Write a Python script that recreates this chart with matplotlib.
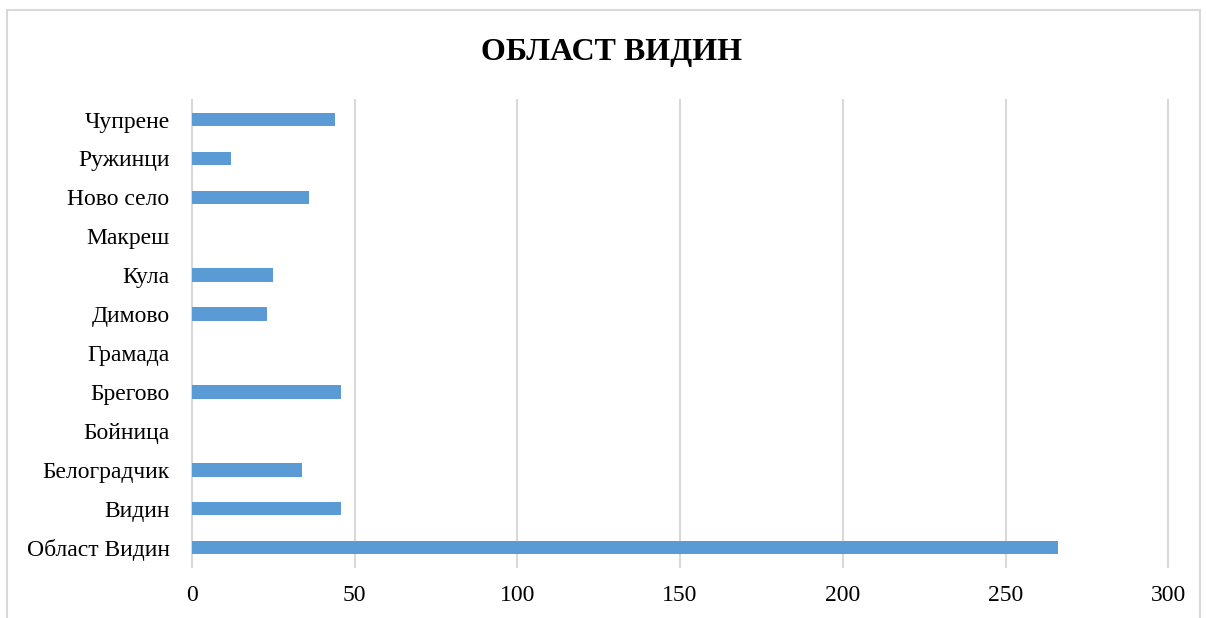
import matplotlib.pyplot as plt
from matplotlib.patches import Rectangle

plt.rcParams['font.family'] = ['Liberation Serif', 'DejaVu Serif']

# категории (отгоре надолу както в оригинала)
categories = ["Чупрене", "Ружинци", "Ново село", "Макреш", "Кула", "Димово",
              "Грамада", "Брегово", "Бойница", "Белоградчик", "Видин", "Област Видин"]
values = [44, 12, 36, 0, 25, 23, 0, 46, 0, 34, 46, 266]
xticks = [0, 50, 100, 150, 200, 250, 300]

fig = plt.figure(figsize=(12.06, 6.18), dpi=100)
ax = fig.add_axes([0.159, 0.0825, 0.8097, 0.7555])

# рамка около диаграмата
fig.patches.append(Rectangle((7 / 1206, -0.1), (1200 - 7) / 1206, 1.1 - 10 / 618,
                             transform=fig.transFigure, fill=False,
                             edgecolor="#D9D9D9", lw=1.5))

ypos = list(range(len(categories)))[::-1]
ax.barh(ypos, values, height=0.35, color="#5B9BD5", zorder=3)

ax.set_xlim(0, 300)
ax.set_ylim(-0.5, len(categories) - 0.5)
ax.set_xticks(xticks)
ax.set_xticklabels([str(t) for t in xticks], fontsize=17)
ax.set_yticks(ypos)
ax.set_yticklabels(categories, fontsize=17)
ax.tick_params(length=0, pad=13)
ax.tick_params(axis='y', pad=16)

ax.grid(axis='x', color="#D9D9D9", lw=1.5, zorder=0)
for gl in ax.get_xgridlines():
    gl.set_clip_on(False)
for s in ["top", "right", "bottom"]:
    ax.spines[s].set_visible(False)
ax.spines["left"].set_color("#D9D9D9")
ax.spines["left"].set_linewidth(1.5)

fig.text(0.507, 0.915, "ОБЛАСТ ВИДИН", ha="center", va="center",
         fontsize=23, fontweight="bold")

plt.savefig("out.png", dpi=100)
